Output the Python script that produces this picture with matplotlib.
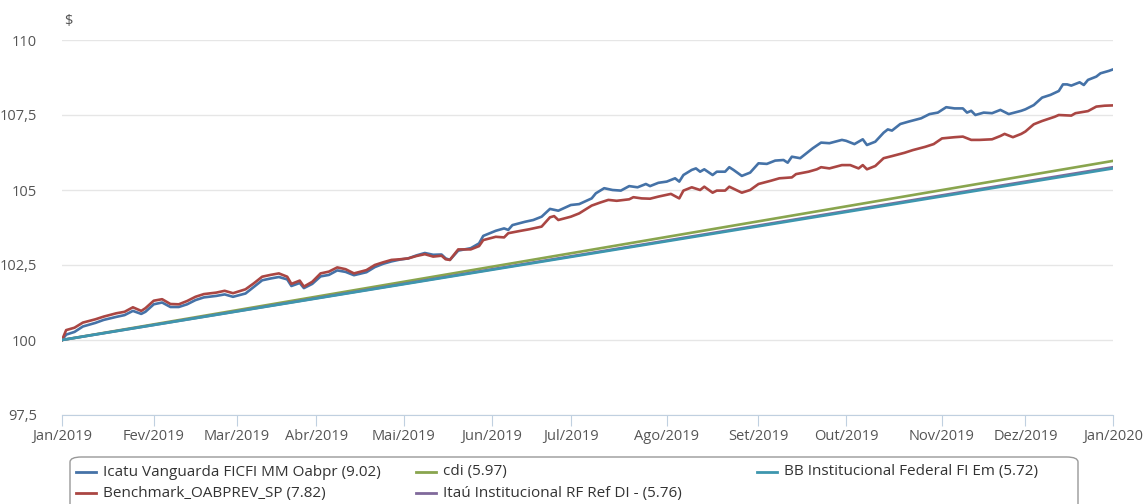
import matplotlib
matplotlib.use("Agg")
import matplotlib.pyplot as plt
from matplotlib.lines import Line2D
from matplotlib.patches import FancyBboxPatch

# business-day index (0 = first day of Jan/2019) and fund value
icatu_day = [0, 1, 3, 5, 8, 10, 13, 15, 17, 19, 20, 22, 24, 26, 28, 30, 32, 34, 37, 39, 41, 44, 46,
             48, 50, 52, 54, 55, 57, 58, 60, 62, 64, 66, 68, 70, 73, 75, 77, 79, 81, 83, 85, 87, 89,
             91, 92, 93, 95, 98, 100, 101, 104, 106, 107, 108, 111, 113, 115, 117, 119, 122, 124,
             127, 128, 130, 132, 134, 136, 138, 140, 141, 143, 145, 147, 148, 149, 151, 152, 153,
             154, 156, 157, 159, 160, 161, 163, 165, 167, 169, 171, 173, 174, 175, 177, 179, 180,
             182, 184, 187, 188, 190, 192, 193, 195, 197, 198, 199, 201, 203, 206, 208, 210, 212,
             214, 216, 217, 218, 219, 221, 223, 225, 227, 230, 231, 233, 235, 237, 239, 240, 241,
             242, 244, 245, 246, 248, 249, 251, 252]
icatu_val = [100.0, 100.18, 100.27, 100.45, 100.57, 100.67, 100.77, 100.83, 100.97, 100.87, 100.94,
             101.19, 101.25, 101.10, 101.10, 101.19, 101.33, 101.42, 101.47, 101.52, 101.44, 101.55,
             101.77, 101.99, 102.05, 102.10, 102.02, 101.80, 101.90, 101.73, 101.87, 102.12, 102.17,
             102.32, 102.27, 102.16, 102.26, 102.43, 102.54, 102.62, 102.68, 102.72, 102.82, 102.90,
             102.84, 102.85, 102.72, 102.67, 102.98, 103.06, 103.22, 103.47, 103.64, 103.72, 103.67,
             103.83, 103.94, 104.00, 104.11, 104.37, 104.31, 104.50, 104.53, 104.72, 104.89, 105.06,
             105.00, 104.98, 105.13, 105.09, 105.20, 105.13, 105.24, 105.28, 105.39, 105.28, 105.50,
             105.67, 105.72, 105.61, 105.69, 105.50, 105.61, 105.61, 105.76, 105.67, 105.47, 105.58,
             105.89, 105.87, 105.98, 106.00, 105.91, 106.11, 106.06, 106.28, 106.39, 106.58, 106.56,
             106.67, 106.64, 106.53, 106.69, 106.50, 106.61, 106.91, 107.02, 106.98, 107.20, 107.28,
             107.39, 107.53, 107.58, 107.76, 107.72, 107.72, 107.58, 107.64, 107.50, 107.58, 107.56,
             107.67, 107.53, 107.64, 107.69, 107.83, 108.08, 108.17, 108.30, 108.52, 108.52, 108.48,
             108.59, 108.50, 108.67, 108.78, 108.89, 108.97, 109.02]

bench_day = [0, 1, 3, 5, 8, 10, 13, 15, 17, 19, 20, 22, 24, 26, 28, 30, 32, 34, 37, 39, 41, 44, 46,
             48, 50, 52, 54, 55, 57, 58, 60, 62, 64, 66, 68, 70, 73, 75, 77, 79, 81, 83, 85, 87, 89,
             91, 92, 93, 95, 98, 100, 101, 104, 106, 107, 110, 112, 115, 117, 118, 119, 122, 124,
             127, 129, 131, 133, 136, 137, 139, 141, 143, 146, 148, 149, 151, 153, 154, 156, 157,
             159, 160, 163, 165, 167, 170, 172, 175, 176, 179, 181, 182, 184, 187, 189, 191, 192,
             193, 195, 197, 199, 202, 204, 207, 209, 211, 214, 216, 218, 220, 223, 225, 226, 228,
             230, 231, 233, 235, 238, 239, 242, 243, 246, 248, 250, 252]
bench_val = [100.0, 100.33, 100.41, 100.58, 100.69, 100.78, 100.89, 100.94, 101.09, 100.97, 101.06,
             101.31, 101.36, 101.20, 101.19, 101.30, 101.44, 101.53, 101.58, 101.64, 101.56, 101.69,
             101.89, 102.11, 102.17, 102.22, 102.11, 101.87, 101.98, 101.78, 101.94, 102.22, 102.28,
             102.42, 102.36, 102.22, 102.33, 102.50, 102.59, 102.67, 102.69, 102.72, 102.80, 102.86,
             102.78, 102.81, 102.69, 102.67, 103.02, 103.02, 103.13, 103.33, 103.44, 103.42, 103.56,
             103.64, 103.69, 103.78, 104.09, 104.13, 104.00, 104.11, 104.22, 104.48, 104.58, 104.67,
             104.64, 104.69, 104.76, 104.72, 104.71, 104.78, 104.87, 104.72, 104.98, 105.09, 105.00,
             105.11, 104.91, 104.98, 104.98, 105.11, 104.91, 105.00, 105.20, 105.31, 105.39, 105.42,
             105.53, 105.61, 105.69, 105.76, 105.72, 105.83, 105.83, 105.72, 105.83, 105.69, 105.80,
             106.06, 106.13, 106.24, 106.33, 106.44, 106.53, 106.72, 106.76, 106.78, 106.67, 106.67,
             106.69, 106.80, 106.87, 106.76, 106.87, 106.95, 107.19, 107.30, 107.44, 107.50, 107.48,
             107.56, 107.63, 107.78, 107.81, 107.82]

flat_day = [0, 252]
cdi_val = [100.0, 105.97]
itau_val = [100.0, 105.76]
bb_val = [100.0, 105.72]

month_pos = [0, 22, 42, 61, 82, 103, 122, 145, 167, 188, 211, 231, 252]
month_lbl = ["Jan/2019", "Fev/2019", "Mar/2019", "Abr/2019", "Mai/2019", "Jun/2019", "Jul/2019",
             "Ago/2019", "Set/2019", "Out/2019", "Nov/2019", "Dez/2019", "Jan/2020"]
y_ticks = [97.5, 100, 102.5, 105, 107.5, 110]

names = ["Icatu Vanguarda FICFI MM Oabpr (9.02)", "Benchmark_OABPREV_SP (7.82)", "cdi (5.97)",
         "Itaú Institucional RF Ref DI - (5.76)", "BB Institucional Federal FI Em (5.72)"]
colors = ["#4572A7", "#AA4643", "#89A54E", "#80699B", "#3D96AE"]

plt.rcParams["font.family"] = ["Open Sans", "DejaVu Sans"]

W, H = 1148, 504
fig = plt.figure(figsize=(W / 100, H / 100), dpi=100)
ax = fig.add_axes([62 / W, 1 - 415 / H, (1113 - 62) / W, (415 - 40) / H])

series = [(icatu_day, icatu_val), (bench_day, bench_val), (flat_day, cdi_val),
          (flat_day, itau_val), (flat_day, bb_val)]
for (d, v), c in zip(series, colors):
    ax.plot(d, v, color=c, lw=1.9, solid_joinstyle="round")

ax.set_xlim(0, 252)
ax.set_ylim(97.5, 110)
ax.set_yticks(y_ticks)
ax.set_yticklabels([("%g" % t).replace(".", ",") for t in y_ticks])
ax.set_xticks(month_pos)
ax.set_xticklabels(month_lbl)
ax.grid(axis="y", color="#e6e6e6", lw=1)
ax.set_axisbelow(True)
for s in ["top", "right", "left"]:
    ax.spines[s].set_visible(False)
ax.spines["bottom"].set_color("#c0d0e0")
ax.tick_params(axis="y", length=0, pad=18, labelsize=10.5, labelcolor="#555555")
ax.tick_params(axis="x", length=8, color="#c0d0e0", pad=2, labelsize=10.5, labelcolor="#555555")
fig.text(68 / W, 1 - 22 / H, "$", fontsize=10.5, color="#555555", va="center", ha="center")

# legend box, bottom cut off by the figure edge
box = FancyBboxPatch((70 / W, -0.1), (1078 - 70) / W, 0.1 + 1 - 457 / H,
                     boxstyle="round,pad=0,rounding_size=0.01", transform=fig.transFigure,
                     fc="white", ec="#999999", lw=1)
fig.add_artist(box)
leg_pos = [(76, 472), (76, 493), (416, 472), (416, 493), (757, 472)]
for (lx, ly), name, c in zip(leg_pos, names, colors):
    fig.add_artist(Line2D([lx / W, (lx + 20) / W], [1 - ly / H] * 2, color=c, lw=2,
                          transform=fig.transFigure))
    fig.text((lx + 27) / W, 1 - ly / H, name, fontsize=11, color="#333333", va="center")

fig.savefig("out.png", dpi=100)
